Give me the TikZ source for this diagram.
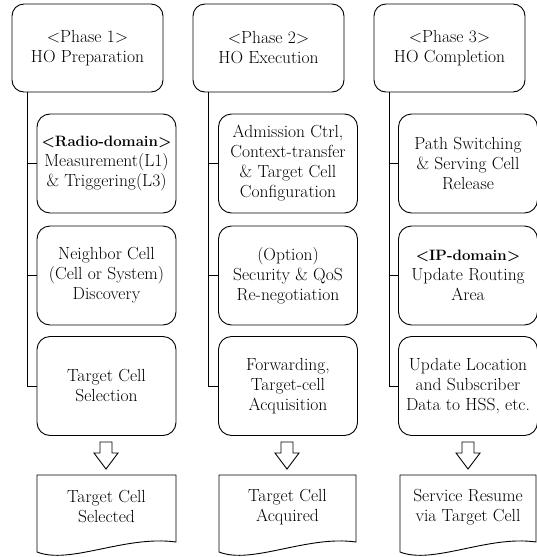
\documentclass[tikz,border=0pt]{standalone}
\begin{document}
\begin{tikzpicture}[x=1pt,y=-1pt,
  every node/.style={font=\fontsize{17.5}{20}\selectfont, align=center, inner sep=0pt},
  hdr/.style={draw, rounded corners=12pt, minimum width=151pt, minimum height=88pt, line width=0.9pt},
  stepbox/.style={draw, rounded corners=13pt, minimum width=139pt, minimum height=99pt, line width=0.9pt},
  link/.style={line width=0.9pt},
  docline/.style={line width=0.9pt},
  hollowarrow/.pic={\draw[line width=0.9pt, fill=white] (-6,0) -- (6,0) -- (6,11) -- (12,11) -- (0,27) -- (-12,11) -- (-6,11) -- cycle;}
]
\useasboundingbox (0,0) rectangle (537,557);

% ---------- column 1 ----------
\node[hdr] (h1) at (87.5,48) {<Phase 1>\\HO Preparation};
\node[stepbox] (b11) at (106.5,163.5) {{\fontsize{15}{20}\selectfont\bfseries <Radio-domain>}\\Measurement(L1)\\\& Triggering(L3)};
\node[stepbox] (b12) at (106.5,275.5) {Neighbor Cell\\(Cell or System)\\Discovery};
\node[stepbox] (b13) at (106.5,386) {Target Cell\\Selection};
\coordinate (v1) at (27,92);
\draw[link] (v1) |- (b13.west);
\draw[link] (v1 |- b11.west) -- (b11.west);
\draw[link] (v1 |- b12.west) -- (b12.west);
\pic at (106,442) {hollowarrow};
\draw[docline] (37,475) -- (176,475) -- (176,542) .. controls (125,535) and (70,565) .. (37,552) -- cycle;
\node (d1) at (106.5,507) {Target Cell\\Selected};

% ---------- column 2 ----------
\node[hdr] (h2) at (268.5,48) {<Phase 2>\\HO Execution};
\node[stepbox] (b21) at (288,163.5) {Admission Ctrl,\\Context-transfer\\\& Target Cell\\Configuration};
\node[stepbox] (b22) at (288,275.5) {(Option)\\Security \& QoS\\Re-negotiation};
\node[stepbox] (b23) at (288,386) {Forwarding,\\Target-cell\\Acquisition};
\coordinate (v2) at (208,92);
\draw[link] (v2) |- (b23.west);
\draw[link] (v2 |- b21.west) -- (b21.west);
\draw[link] (v2 |- b22.west) -- (b22.west);
\pic at (287,442) {hollowarrow};
\draw[docline] (219,475) -- (356,475) -- (356,542) .. controls (307,535) and (252,565) .. (219,552) -- cycle;
\node (d2) at (287.5,507) {Target Cell\\Acquired};

% ---------- column 3 ----------
\node[hdr] (h3) at (449.5,48) {<Phase 3>\\HO Completion};
\node[stepbox] (b31) at (468,163.5) {Path Switching\\\& Serving Cell\\Release};
\node[stepbox] (b32) at (468,275.5) {{\fontsize{15}{20}\selectfont\bfseries <IP-domain>}\\Update Routing\\Area};
\node[stepbox] (b33) at (468,386) {Update Location\\and Subscriber\\Data to HSS, etc.};
\coordinate (v3) at (389,92);
\draw[link] (v3) |- (b33.west);
\draw[link] (v3 |- b31.west) -- (b31.west);
\draw[link] (v3 |- b32.west) -- (b32.west);
\pic at (468,442) {hollowarrow};
\draw[docline] (400,475) -- (536,475) -- (536,542) .. controls (488,535) and (433,565) .. (400,552) -- cycle;
\node (d3) at (468,507) {Service Resume\\via Target Cell};
\end{tikzpicture}
\end{document}
